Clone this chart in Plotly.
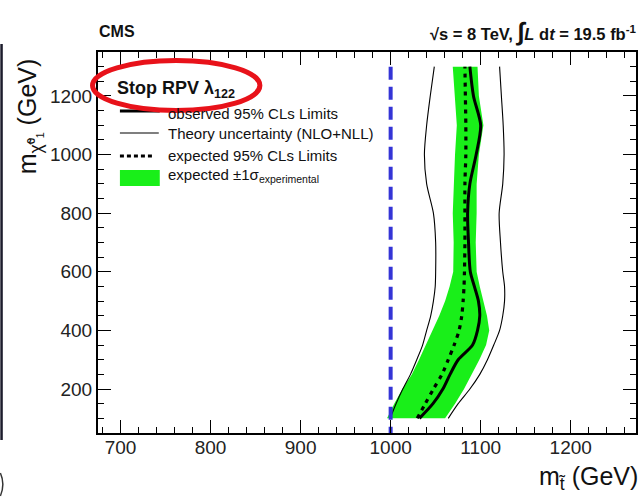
import plotly.graph_objects as go

# Neutralino mass grid (GeV) at which the exclusion contours are sampled
m_chi = [100, 150, 200, 250, 300, 350, 400, 450, 500, 550, 600,
         700, 800, 900, 1000, 1100, 1200, 1300]

# Stop-mass limits (GeV) for each neutralino mass
band_lo = [996, 1004, 1013, 1023.5, 1031.5, 1039, 1046.5, 1054, 1060.5, 1065.5,
           1069.5, 1070, 1069, 1070, 1071.5, 1073.5, 1071, 1069]
band_hi = [1060.5, 1071.5, 1081.5, 1090, 1098.5, 1106, 1109.5, 1107, 1103, 1099,
           1095.5, 1094.5, 1095.5, 1095.5, 1098, 1103, 1098, 1096.5]
observed = [1032, 1047, 1058, 1066, 1075, 1091, 1096.5, 1099, 1097.5, 1093,
            1088.5, 1086.5, 1085.5, 1088, 1095, 1100, 1092, 1088]
expected = [1029.5, 1038.5, 1047.5, 1057, 1064, 1070.5, 1076, 1079, 1080.5, 1081.5,
            1082, 1082.5, 1082.5, 1082.5, 1083.5, 1083.5, 1083, 1082.5]
theory_lo = [999.5, 1006, 1013.5, 1022, 1029, 1035.5, 1040, 1044.5, 1047.5, 1049.5,
             1050, 1050, 1047.5, 1040, 1037.5, 1040, 1044, 1048.5]
theory_hi = [1064, 1075, 1088, 1099, 1107.5, 1114.5, 1121, 1124.5, 1126.5, 1126.5,
             1124.5, 1122, 1120.5, 1124.5, 1126, 1125, 1123, 1121]

# Vertical reference line in stop mass
stop_ref = 1000
stop_ref_span = [1300, 50]

legend_labels = [
    "observed 95% CLs Limits",
    "Theory uncertainty (NLO+NLL)",
    "expected 95% CLs Limits",
    "expected ±1σ<sub>experimental</sub>",
]

W, H = 643, 498
ML, MR, MT, MB = 98, 5, 52, 65
PW, PH = W - ML - MR, H - MT - MB
FONT = "Liberation Sans, Arial, Helvetica, sans-serif"
GREEN = "#19ef19"


def px(x):
    return (x - ML) / PW


def py(y):
    return (MT + PH - y) / PH


fig = go.Figure()

fig.add_trace(go.Scatter(
    x=band_lo + band_hi[::-1], y=m_chi + m_chi[::-1],
    fill="toself", fillcolor=GREEN, mode="lines",
    line=dict(width=0, color=GREEN), hoverinfo="skip"))

for th in (theory_lo, theory_hi):
    fig.add_trace(go.Scatter(x=th, y=m_chi, mode="lines",
                             line=dict(color="black", width=1.1, shape="spline", smoothing=0.8)))

fig.add_trace(go.Scatter(x=expected, y=m_chi, mode="lines",
                         line=dict(color="black", width=3.2, dash="4px,5px",
                                   shape="spline", smoothing=0.8)))
fig.add_trace(go.Scatter(x=observed, y=m_chi, mode="lines",
                         line=dict(color="black", width=3, shape="spline", smoothing=0.8)))

fig.add_trace(go.Scatter(x=[stop_ref, stop_ref], y=stop_ref_span, mode="lines",
                         line=dict(color="#3434d6", width=4, dash="13px,7px")))

axis_common = dict(
    showline=True, linewidth=2, linecolor="black", mirror="allticks",
    ticks="inside", ticklen=13, tickwidth=1.4, tickcolor="black",
    showgrid=False, zeroline=False,
    tickfont=dict(family=FONT, size=19, color="#222"),
)

fig.update_xaxes(range=[675, 1272.5], tick0=700, dtick=100, ticklabelstandoff=-4,
                 minor=dict(tick0=700, dtick=20, ticks="inside", ticklen=6,
                            tickwidth=1.1, tickcolor="black", showgrid=False),
                 **axis_common)
fig.update_yaxes(range=[50, 1350], tick0=200, dtick=200,
                 minor=dict(tick0=200, dtick=50, ticks="inside", ticklen=6,
                            tickwidth=1.1, tickcolor="black", showgrid=False),
                 **axis_common)

ann = []
ann.append(dict(text="<b>CMS</b>", x=px(97), y=py(31), xanchor="left", yanchor="middle",
                font=dict(family=FONT, size=16, color="#111")))
ann.append(dict(text="<b>√s = 8 TeV, <span style='font-size:25px'>∫</span><i>L</i> d<i>t</i> = 19.5 fb<sup>-1</sup></b>",
                x=px(641), y=py(31), xanchor="right", yanchor="middle",
                font=dict(family=FONT, size=16.5, color="#111")))
ann.append(dict(text="m<sub>χ̃⁰₁</sub> (GeV)", textangle=-90,
                x=px(29), y=py(176), xanchor="center", yanchor="bottom",
                font=dict(family=FONT, size=25, color="#111")))
ann.append(dict(text="m<sub>t̃</sub> (GeV)",
                x=px(642), y=py(478), xanchor="right", yanchor="middle",
                font=dict(family=FONT, size=25, color="#111")))
ann.append(dict(text="<b>Stop RPV λ<sub>122</sub></b>",
                x=px(115), y=py(89), xanchor="left", yanchor="middle",
                font=dict(family=FONT, size=18, color="#111")))

row_y = [113, 133, 155, 175]
for lbl, yy in zip(legend_labels, row_y):
    ann.append(dict(text=lbl, x=px(166), y=py(yy), xanchor="left", yanchor="middle",
                    font=dict(family=FONT, size=15, color="#111")))

for a in ann:
    a.update(xref="paper", yref="paper", showarrow=False)

shapes = [
    # legend symbols
    dict(type="line", x0=px(120), x1=px(160), y0=py(111), y1=py(111),
         line=dict(color="black", width=3)),
    dict(type="line", x0=px(120), x1=px(159), y0=py(133), y1=py(133),
         line=dict(color="black", width=1.1)),
    dict(type="line", x0=px(120), x1=px(155), y0=py(156), y1=py(156),
         line=dict(color="black", width=3.2, dash="4px,3px")),
    dict(type="rect", x0=px(120), x1=px(160), y0=py(186), y1=py(170),
         fillcolor=GREEN, line=dict(width=0)),
    # red highlight around the model label
    dict(type="circle", x0=px(92.5), x1=px(260.5), y0=py(60.5), y1=py(110.5),
         line=dict(color="#e8121a", width=5), layer="above"),
    # page edge line on the left
    dict(type="line", x0=px(1.2), x1=px(1.2), y0=py(44), y1=py(440),
         line=dict(color="#1c1c2c", width=2.5), layer="above"),
    dict(type="path", path=f"M {px(0)} {py(473)} Q {px(5)} {py(484)} {px(0)} {py(496)}",
         line=dict(color="#333", width=1.5), layer="above"),
]
for s in shapes:
    s.update(xref="paper", yref="paper")

fig.update_layout(
    width=W, height=H, margin=dict(l=ML, r=MR, t=MT, b=MB, pad=0),
    paper_bgcolor="white", plot_bgcolor="white",
    showlegend=False, annotations=ann, shapes=shapes,
    font=dict(family=FONT, color="#111"),
)

fig.write_html("out.html")
